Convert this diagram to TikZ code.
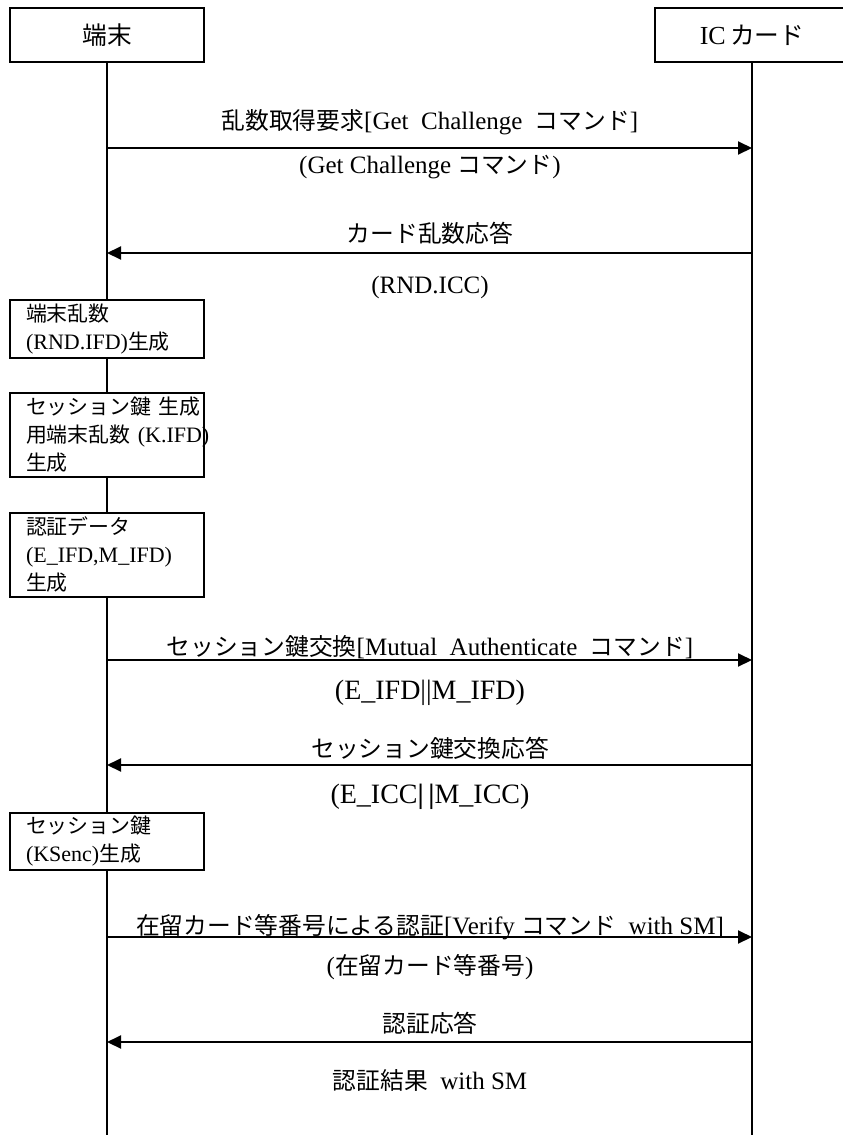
\documentclass[tikz,border=0pt]{standalone}
\usepackage{fontspec}
\setmainfont{Liberation Serif}
\newfontfamily\cjk[Scale=0.95]{Noto Sans CJK JP}
\usetikzlibrary{arrows.meta}
\newcommand\J[1]{{\cjk #1}}
\begin{document}
\begin{tikzpicture}[x=1pt,y=-1pt,
  hdr/.style={draw,line width=1.6pt,fill=white,minimum width=194pt,minimum height=54pt,inner sep=0pt,font=\fontsize{26}{30}\selectfont},
  act/.style={draw,line width=1.6pt,fill=white,minimum width=194pt,inner xsep=16pt,inner ysep=0pt,text width=162pt,align=left,anchor=north,font=\fontsize{22}{28}\selectfont},
  life/.style={line width=1.6pt},
  msg/.style={line width=2pt,-{Triangle[length=14pt,width=13pt]}},
  lab/.style={font=\fontsize{25}{28}\selectfont,inner sep=0pt}]
\useasboundingbox (0,0) rectangle (843,1135);
% lifeline ends
\coordinate (lend) at (107,1135);
\coordinate (rend) at (752,1135);
% headers
\node[hdr] (hl) at (107,35) {\J{端末}};
\node[hdr] (hr) at (752,35) {IC\,\J{カード}};
\draw[life] (hl.south) -- (lend);
\draw[life] (hr.south) -- (rend);
% action boxes
\node[act,minimum height=58pt] (b1) at (107,299) {\J{端末乱数}\\(RND.IFD)\J{生成}};
\node[act,minimum height=84pt] (b2) at (107,392) {\J{セッション鍵~生成}\\\J{用端末乱数}~(K.IFD)\\\J{生成}};
\node[act,minimum height=84pt] (b3) at (107,512) {\J{認証データ}\\(E\_IFD,M\_IFD)\\\J{生成}};
\node[act,minimum height=57pt] (b4) at (107,812) {\J{セッション鍵}\\(KSenc)\J{生成}};
% message end points
\coordinate (l1) at (107,148); \coordinate (r1) at (752,148);
\coordinate (l2) at (107,253); \coordinate (r2) at (752,253);
\coordinate (l3) at (107,660); \coordinate (r3) at (752,660);
\coordinate (l4) at (107,765); \coordinate (r4) at (752,765);
\coordinate (l5) at (107,937); \coordinate (r5) at (752,937);
\coordinate (l6) at (107,1042); \coordinate (r6) at (752,1042);
\draw[msg] (l1) -- (r1);
\draw[msg] (r2) -- (l2);
\draw[msg] (l3) -- (r3);
\draw[msg] (r4) -- (l4);
\draw[msg] (l5) -- (r5);
\draw[msg] (r6) -- (l6);
% labels
\node[lab] (t1a) at (430,122) {\J{乱数取得要求}[Get\ \ Challenge\ \ \J{コマンド}]};
\node[lab] (t1b) at (430,167) {(Get Challenge \J{コマンド})};
\node[lab] (t2a) at (430,233) {\J{カード乱数応答}};
\node[lab] (t2b) at (430,287) {(RND.ICC)};
\node[lab] (t3a) at (430,647) {\J{セッション鍵交換}[Mutual\ \ Authenticate\ \ \J{コマンド}]};
\node[lab,font=\fontsize{28}{30}\selectfont] (t3b) at (430,693) {(E\_IFD||M\_IFD)};
\node[lab] (t4a) at (430,748) {\J{セッション鍵交換応答}};
\node[lab,font=\fontsize{28}{30}\selectfont] (t4b) at (430,797) {(E\_ICC\textbf{|\,|}M\_ICC)};
\node[lab] (t5a) at (430,927) {\J{在留カード等番号による認証}[Verify \J{コマンド}\ \ with SM]};
\node[lab] (t5b) at (430,967) {(\J{在留カード等番号})};
\node[lab] (t6a) at (430,1023) {\J{認証応答}};
\node[lab] (t6b) at (430,1080) {\J{認証結果}\ \ with SM};
\end{tikzpicture}
\end{document}
